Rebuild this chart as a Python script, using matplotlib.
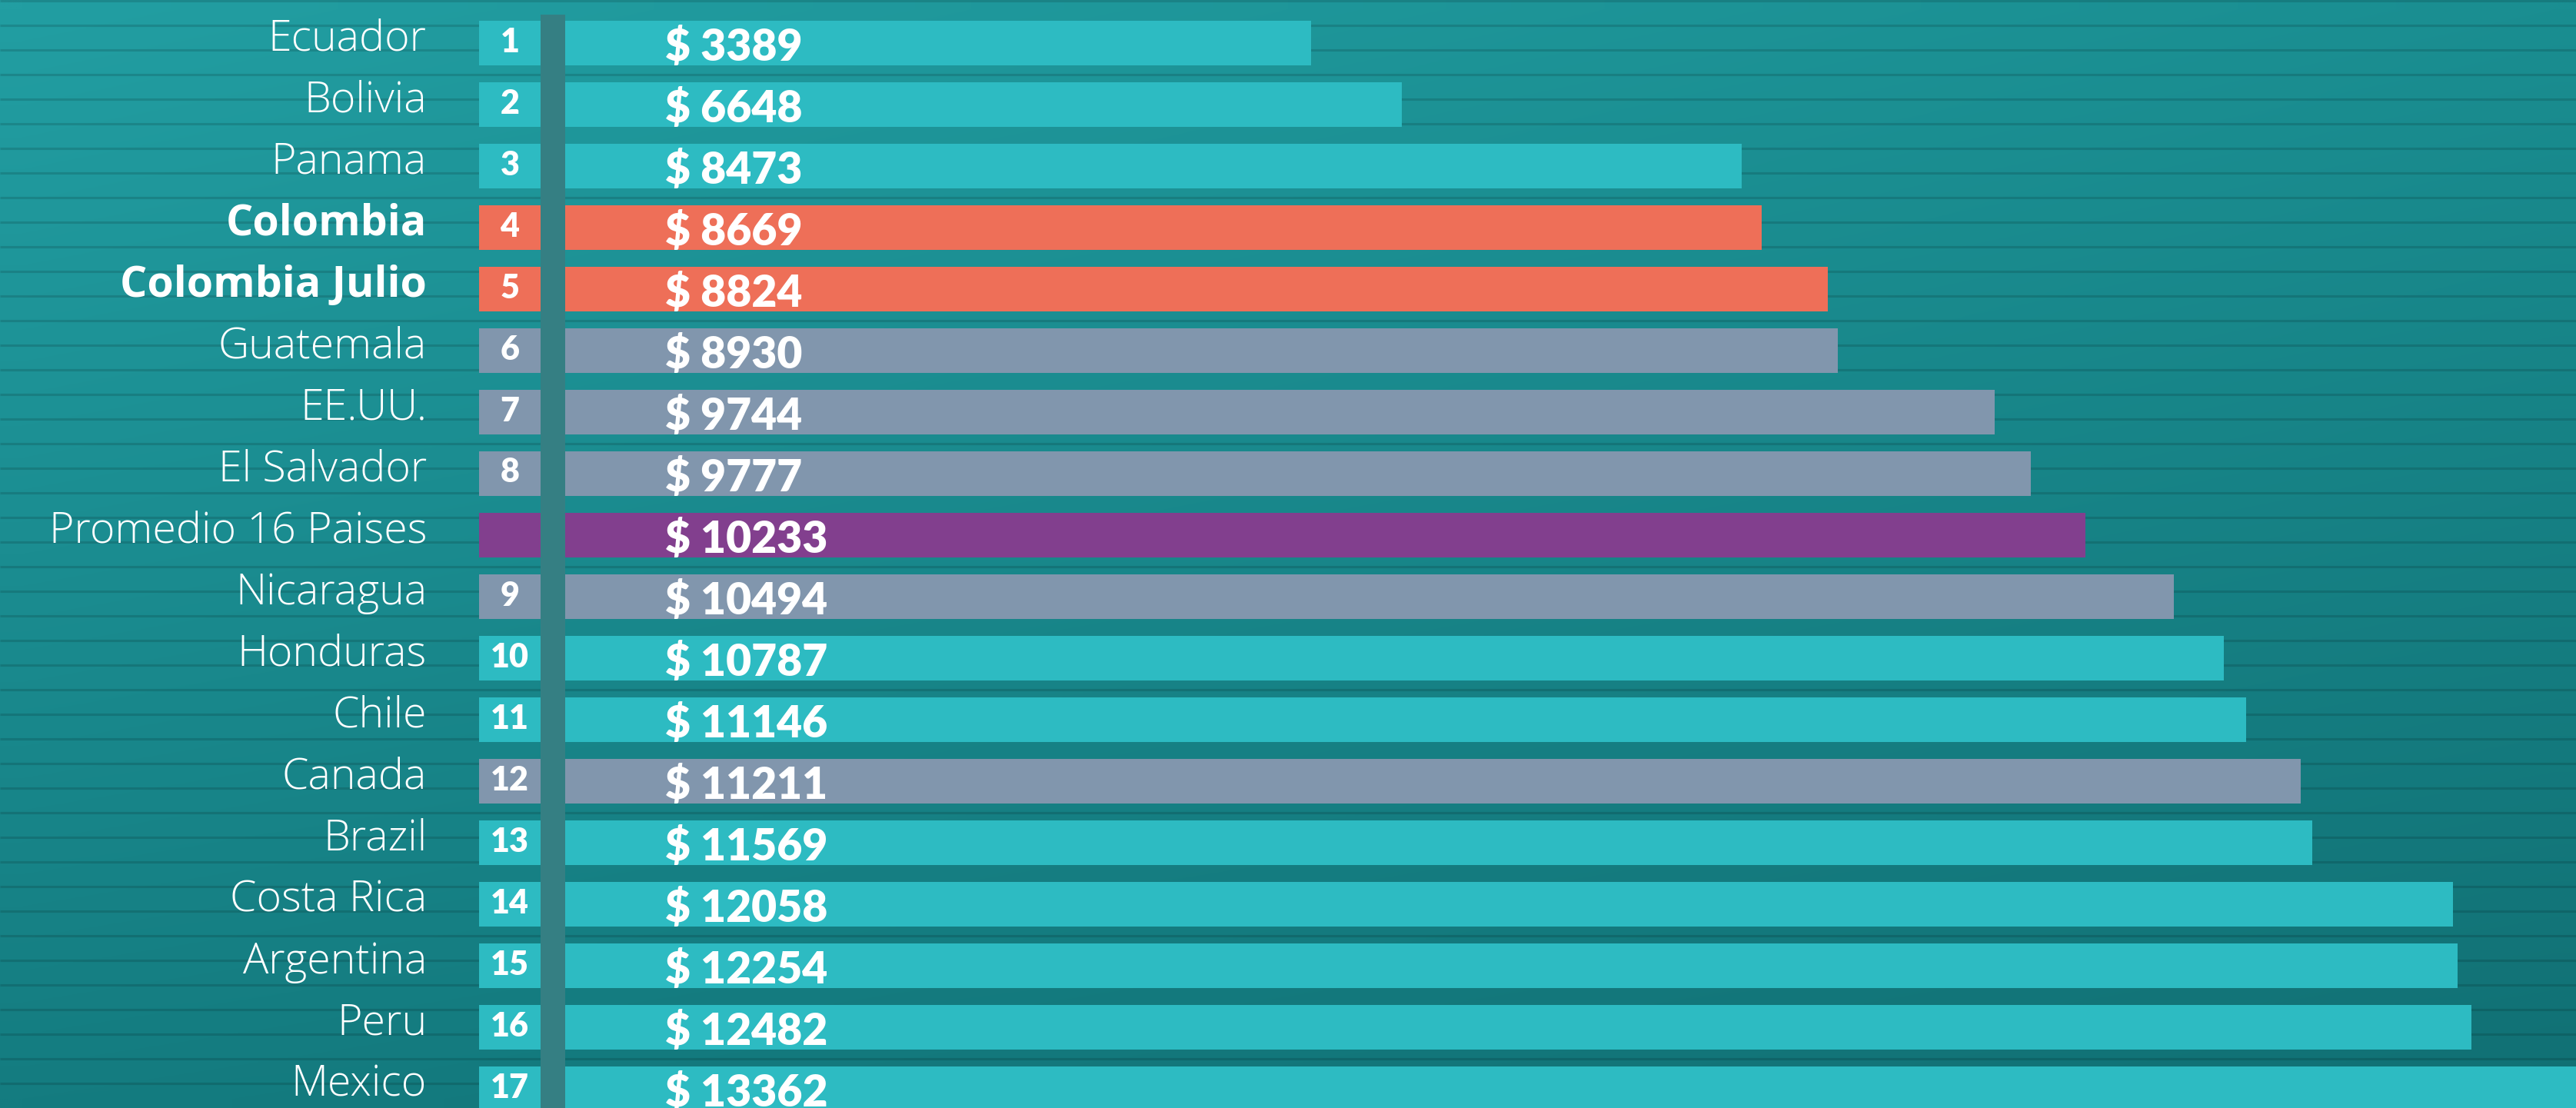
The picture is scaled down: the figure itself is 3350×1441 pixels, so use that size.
import numpy as np
import matplotlib
matplotlib.use("Agg")
import matplotlib.pyplot as plt
from matplotlib.patches import Rectangle
from matplotlib.transforms import blended_transform_factory

# ---------------- data ----------------
countries = ["Ecuador", "Bolivia", "Panama", "Colombia", "Colombia Julio", "Guatemala",
             "EE.UU.", "El Salvador", "Promedio 16 Paises", "Nicaragua", "Honduras",
             "Chile", "Canada", "Brazil", "Costa Rica", "Argentina", "Peru", "Mexico"]
values = [3389, 6648, 8473, 8669, 8824, 8930, 9744, 9777, 10233, 10494, 10787,
          11146, 11211, 11569, 12058, 12254, 12482, 13362]
ranks = ["1", "2", "3", "4", "5", "6", "7", "8", "", "9", "10", "11", "12", "13",
         "14", "15", "16", "17"]
groups = ["A", "A", "A", "COL", "COL", "B", "B", "B", "AVG", "B", "A", "A", "B", "A",
          "A", "A", "A", "A"]
# bar lengths as drawn in the infographic (percent of the bar area width);
# the original bars are not proportional to the printed values
bar_length = [37.1, 41.6, 58.5, 59.5, 62.8, 63.3, 71.1, 72.9, 75.6, 80.0, 82.5,
              83.6, 86.3, 86.9, 93.9, 94.1, 94.8, 105.0]
bold_rows = ["Colombia", "Colombia Julio"]

# ---------------- style ----------------
group_colors = {"A": "#2DBBC2", "COL": "#EE6F58", "B": "#8196AD", "AVG": "#823F8E"}
colors = [group_colors[g] for g in groups]

W, H = 3350, 1441
fig = plt.figure(figsize=(W / 100, H / 100), dpi=100)

# background gradient with horizontal stripes
bg = fig.add_axes([0, 0, 1, 1])
bg.set_xlim(0, W)
bg.set_ylim(H, 0)
bg.axis("off")
tl = np.array([34, 158, 162]) / 255
tr = np.array([26, 142, 145]) / 255
bl = np.array([20, 124, 128]) / 255
br = np.array([17, 112, 116]) / 255
ny, nx = 60, 60
yy, xx = np.mgrid[0:1:ny * 1j, 0:1:nx * 1j]
img = ((1 - yy)[..., None] * ((1 - xx)[..., None] * tl + xx[..., None] * tr)
       + yy[..., None] * ((1 - xx)[..., None] * bl + xx[..., None] * br))
bg.imshow(img, extent=(0, W, H, 0), aspect="auto", interpolation="bilinear", zorder=0)
bg.hlines(np.arange(1, H, 32), 0, W, colors=(0, 0, 0, 0.13), lw=2.2, zorder=1)
bg.add_patch(Rectangle((703, 19), 32, H, facecolor="#357F83", edgecolor="none", zorder=2))

# row geometry
c0, pitch = 56.3, 80.0
y = np.arange(len(countries))
ylim = ((H - c0) / pitch, -c0 / pitch)
bh = 58.0 / pitch

# main bars
ax = fig.add_axes([735 / W, 0, (W - 735) / W, 1])
ax.set_xlim(0, 100)
ax.set_ylim(*ylim)
ax.axis("off")
ax.barh(y, bar_length, height=bh, color=colors, left=0)
for yi, v in zip(y, values):
    ax.text(4.97, yi + 0.284, f"$ {v}", color="white", fontsize=41,
            fontweight="heavy", family="Lato", ha="left", va="baseline")

# rank boxes
axr = fig.add_axes([623 / W, 0, 80 / W, 1])
axr.set_xlim(0, 1)
axr.set_ylim(*ylim)
axr.axis("off")
axr.barh(y, 1, height=bh, color=colors, left=0)
tr_lab = blended_transform_factory(axr.transAxes, axr.transData)
for yi, r, name in zip(y, ranks, countries):
    axr.text(0.5, yi + 0.14, r, color="white", fontsize=31, fontweight="heavy",
             family="Lato", ha="center", va="baseline")
    axr.text(-68 / 80, yi + 0.12, name, color="white", fontsize=40,
             fontweight="bold" if name in bold_rows else "light",
             family="Open Sans", ha="right", va="baseline", transform=tr_lab)

fig.savefig("out.png", dpi=100)
